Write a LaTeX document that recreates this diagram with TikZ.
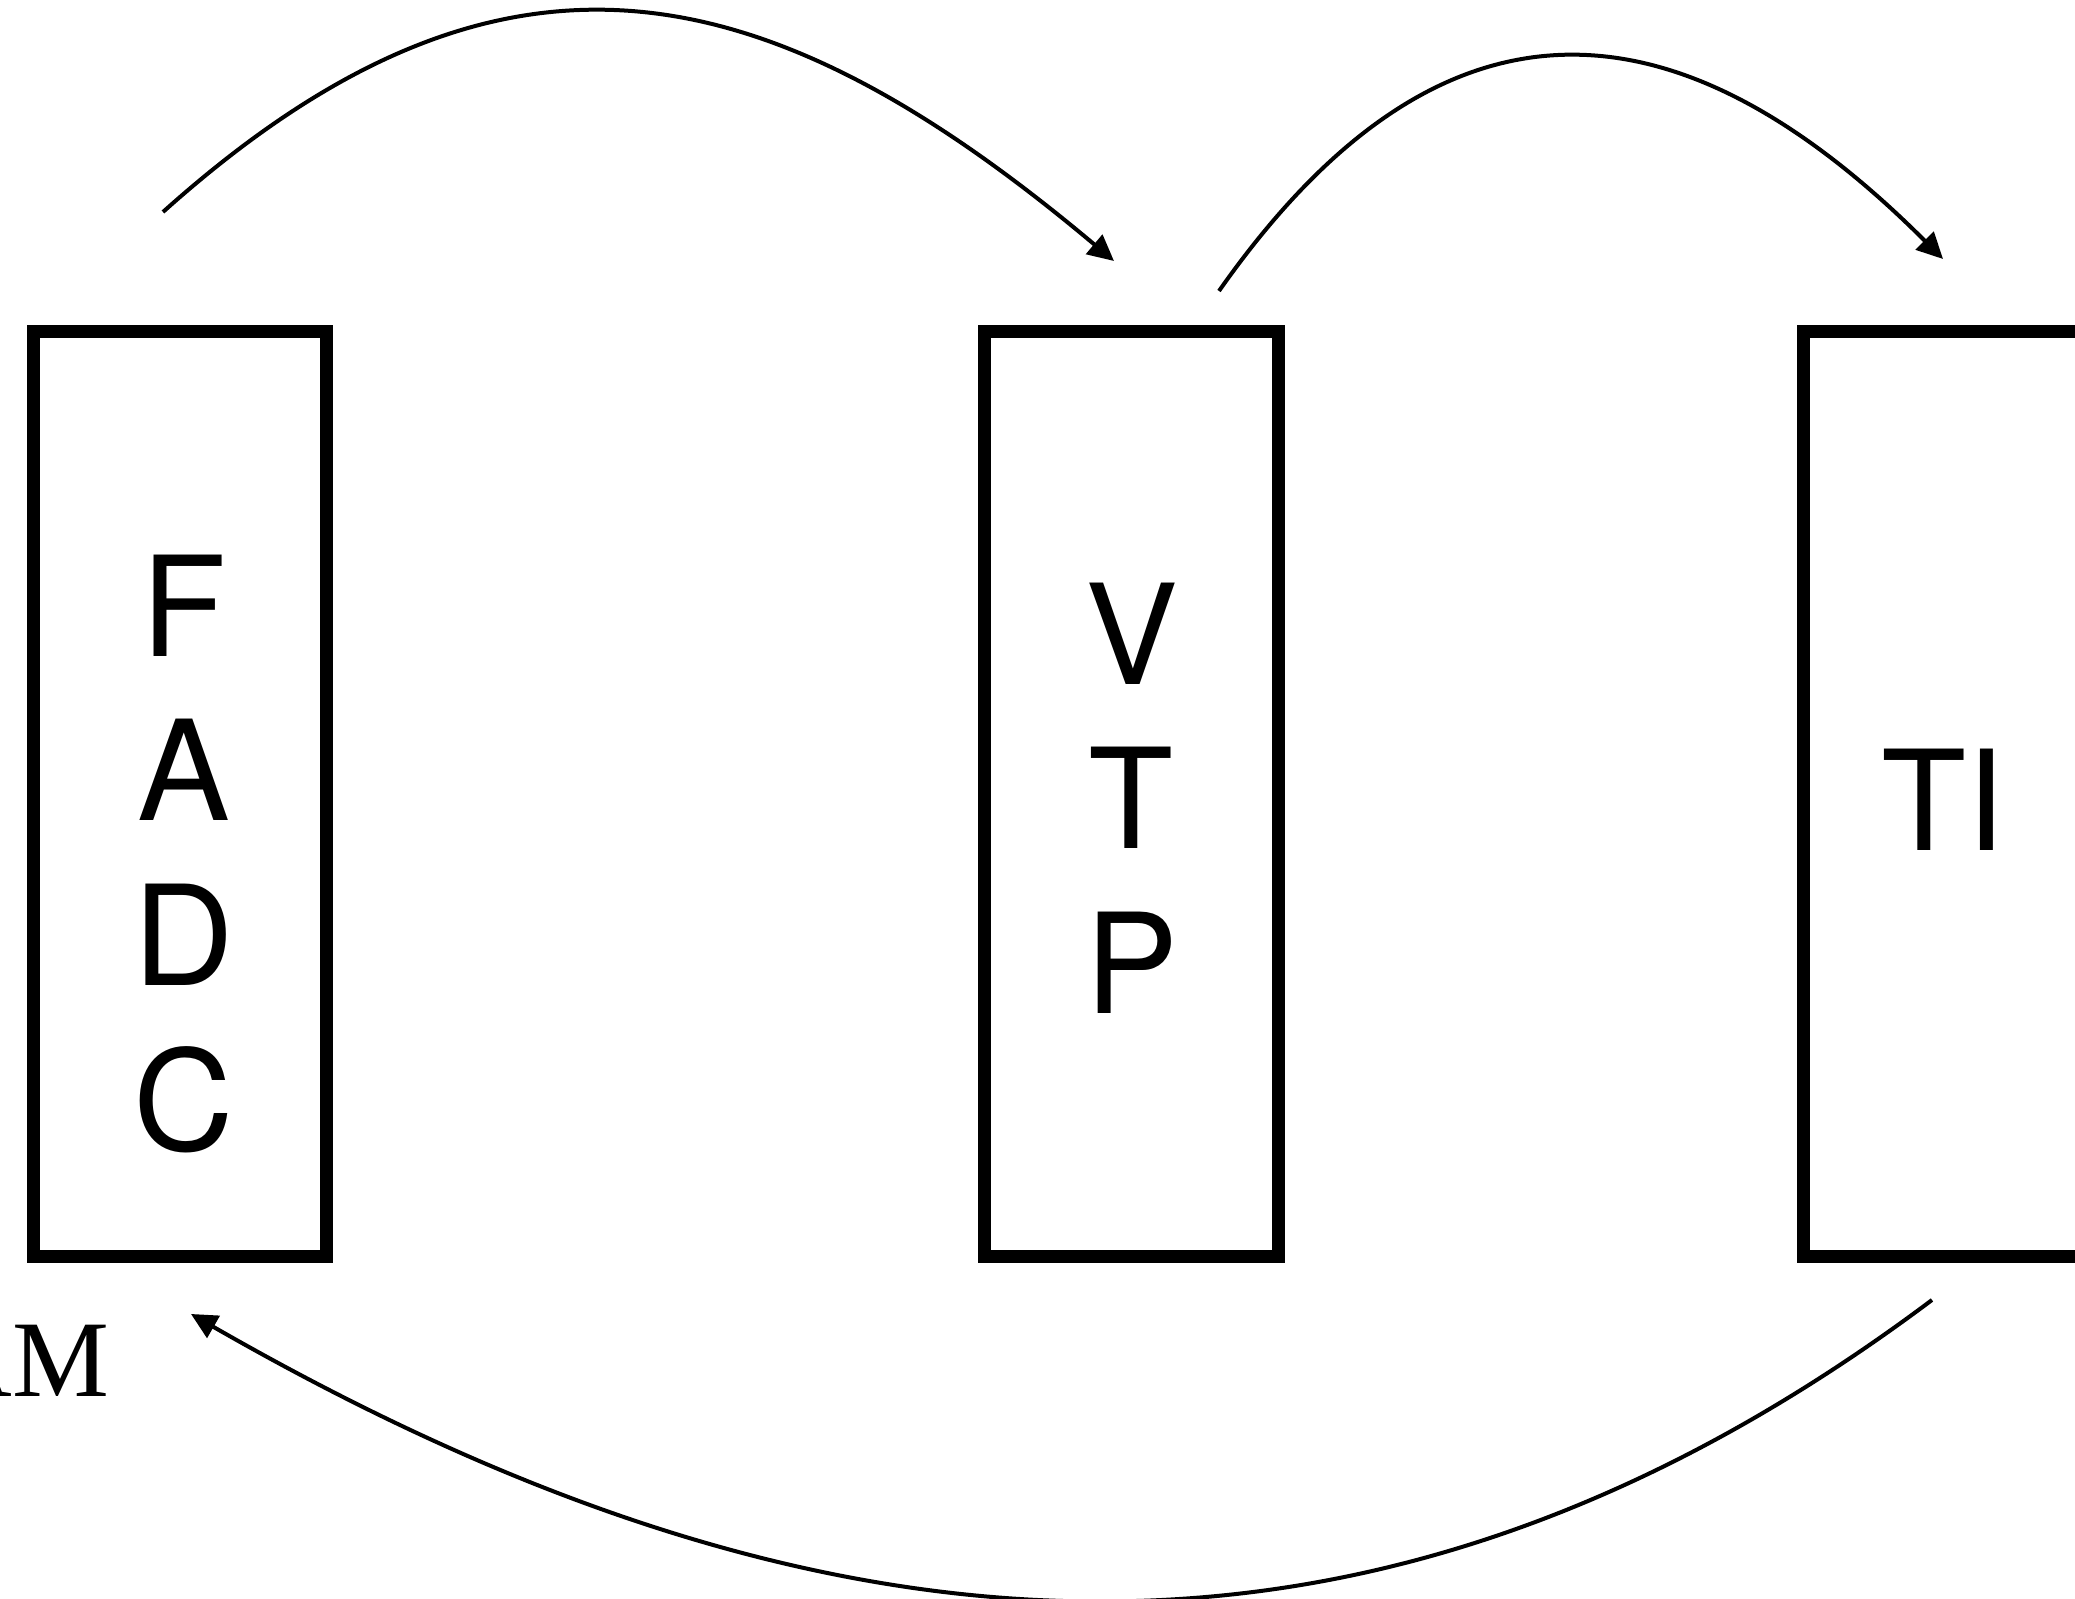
\documentclass[tikz,border=0pt]{standalone}
\usepackage{fontspec}
\newfontfamily\labelfont{TeX Gyre Heros}
\newfontfamily\serifmark{Liberation Serif}
\usetikzlibrary{arrows.meta}
\begin{document}
\begin{tikzpicture}[x=0.1mm,y=-0.1mm,
  unit/.style={draw, line width=1.3mm, minimum width=29.4mm, minimum height=92.5mm, inner sep=0pt},
  vlabel/.style={font=\labelfont\fontsize{39.6}{46.9}\selectfont, align=center, anchor=north, inner sep=0pt},
  flow/.style={line width=0.4mm, -{Triangle[length=2.6mm,width=2.5mm]}}]
\useasboundingbox (0,0) rectangle (2075,1599);
\node[unit] (fadc) at (180,794.5) {};
\node[unit] (vtp) at (1131.5,794.5) {};
\node[unit] (ti) at (1950,794.5) {};
\node[vlabel] (fadctxt) at (184,554) {F\\A\\D\\C};
\node[vlabel] (vtptxt) at (1131.5,582) {V\\T\\P};
\node[vlabel] (titxt) at (1943,748) {TI};
\node[font=\serifmark\fontsize{31}{37}\selectfont, anchor=base east, inner sep=0pt] (am) at (110,1397) {AM};
\coordinate (s1) at (163,212);
\coordinate (e1) at (1114,261);
\coordinate (s2) at (1219,291);
\coordinate (e2) at (1943,259);
\coordinate (s3) at (1932,1300);
\coordinate (e3) at (191,1314);
\draw[flow] (s1) .. controls (500,-90) and (764,-33) .. (e1);
\draw[flow] (s2) .. controls (1438,-21) and (1674,-10) .. (e2);
\draw[flow] (s3) .. controls (1364,1726) and (809,1669) .. (e3);
\end{tikzpicture}
\end{document}
